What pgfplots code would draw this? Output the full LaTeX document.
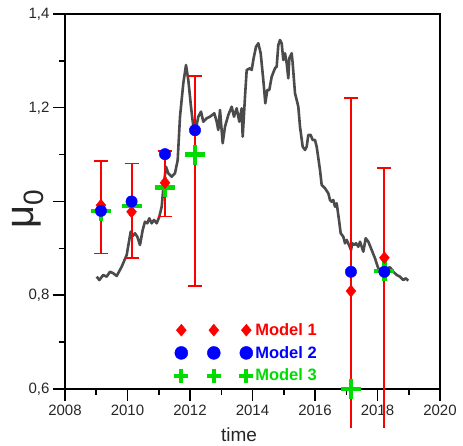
\documentclass[border=0pt]{standalone}
\usepackage{fontspec}
\setmainfont{Liberation Sans}
\usepackage{pgfplots}
\pgfplotsset{compat=1.18}
\definecolor{mred}{RGB}{255,0,0}
\definecolor{mblue}{RGB}{0,0,255}
\definecolor{mgreen}{RGB}{0,220,0}
\definecolor{lgray}{RGB}{75,75,75}
\pgfplotstableread{
x y
2009.014 0.8396
2009.098 0.8325
2009.226 0.8432
2009.334 0.8396
2009.440 0.8502
2009.546 0.8468
2009.654 0.8411
2009.814 0.8609
2009.974 0.8859
2010.102 0.9356
2010.166 0.9264
2010.240 0.9322
2010.314 0.9249
2010.400 0.9072
2010.486 0.9392
2010.560 0.9569
2010.634 0.9535
2010.698 0.9642
2010.774 0.9535
2010.848 0.9605
2010.934 0.9535
2011.018 0.9676
2011.094 0.9889
2011.146 1.0282
2011.232 1.0742
2011.306 1.0602
2011.414 1.0529
2011.520 1.0602
2011.606 1.0885
2011.680 1.1809
2011.786 1.2522
2011.872 1.2912
2011.946 1.2592
2012.032 1.2022
2012.106 1.1596
2012.182 1.1525
2012.266 1.1809
2012.352 1.1916
2012.426 1.1702
2012.534 1.1775
2012.640 1.1809
2012.778 1.1882
2012.854 1.1702
2012.906 1.1525
2012.960 1.1952
2013.046 1.1242
2013.120 1.1596
2013.226 1.1845
2013.334 1.2022
2013.408 1.1809
2013.494 1.1988
2013.578 1.1702
2013.654 1.1988
2013.686 1.1382
2013.760 1.2236
2013.814 1.2805
2013.920 1.2842
2013.974 1.2805
2014.026 1.3019
2014.112 1.3302
2014.186 1.3375
2014.262 1.3162
2014.346 1.2592
2014.410 1.2095
2014.474 1.2379
2014.538 1.2379
2014.614 1.2662
2014.720 1.2842
2014.774 1.2876
2014.826 1.3339
2014.880 1.3445
2014.934 1.3375
2014.986 1.3019
2015.040 1.3162
2015.094 1.2948
2015.146 1.2628
2015.178 1.3055
2015.254 1.3162
2015.286 1.2948
2015.360 1.2308
2015.414 1.2165
2015.466 1.2022
2015.520 1.1596
2015.606 1.1169
2015.680 1.1099
2015.734 1.1169
2015.786 1.1419
2015.862 1.1419
2015.926 1.1312
2016.000 1.1312
2016.054 1.1169
2016.160 1.0672
2016.214 1.0352
2016.320 1.0282
2016.426 1.0175
2016.480 1.0032
2016.534 0.9996
2016.586 1.0032
2016.640 0.9889
2016.694 0.9962
2016.768 0.9605
2016.822 0.9322
2016.906 0.9249
2016.960 0.9108
2017.014 0.9179
2017.088 0.9072
2017.152 0.8965
2017.194 0.9108
2017.258 0.9072
2017.312 0.9108
2017.386 0.9036
2017.440 0.9142
2017.494 0.9036
2017.546 0.8929
2017.622 0.9215
2017.706 0.9142
2017.814 0.8965
2017.920 0.8788
2018.006 0.8609
2018.080 0.8502
2018.154 0.8575
2018.294 0.8575
2018.400 0.8596
2018.506 0.8502
2018.614 0.8432
2018.720 0.8396
2018.826 0.8325
2018.902 0.8362
2018.986 0.8311
}\seriesline
\begin{document}
\begin{tikzpicture}
\useasboundingbox (-65pt,-57pt) rectangle (398pt,389pt);
\begin{axis}[
  at={(0pt,0pt)}, anchor=south west,
  width=375pt, height=375pt, scale only axis,
  xmin=2008, xmax=2020, ymin=0.6, ymax=1.4,
  clip=false,
  axis line style={line width=1.6pt, black},
  xtick={2008,2010,2012,2014,2016,2018,2020},
  xticklabels={2008,2010,2012,2014,2016,2018,2020},
  ytick={0.6,0.8,1.0,1.2,1.4},
  yticklabels={{0,6},{0,8},{},{1,2},{1,4}},
  minor x tick num=1, minor y tick num=1,
  tick pos=left, tick align=outside,
  major tick length=12pt, minor tick length=6pt,
  tick style={black, line width=1.5pt},
  tick label style={font=\fontsize{15}{18}\selectfont, text=black!85},
  xlabel={time},
  xlabel style={font=\fontsize{19}{22}\selectfont, text=black!85, at={(axis description cs:0.464,-0.1413)}, anchor=base},
  ylabel={μ\textsubscript{0}},
  ylabel style={font=\fontsize{40}{44}\selectfont, text=black!85, at={(axis description cs:-0.0853,0.481)}, anchor=base},
  legend image code/.code={\draw[#1] plot coordinates {(0pt,0pt) (32.5pt,0pt) (65pt,0pt)};},
  legend cell align=left,
  legend style={at={(axis description cs:0.291,0.178)}, anchor=north west, draw=none, fill=none, inner sep=0pt, row sep=7.3pt, column sep=1pt, font=\fontsize{16.5}{19}\selectfont\bfseries, nodes={inner sep=1pt}},
  errstyle/.style={only marks, mark=*, mark size=0.01pt, mred, forget plot,
    error bars/error bar style={draw=mred, line width=1.9pt},
    error bars/error mark options={draw=mred, rotate=90, mark size=7pt, line width=1.9pt}},
]
\addplot[lgray, line width=2.6pt, line join=round, forget plot] table[x=x, y=y] {\seriesline};
% Model 3
\addplot[only marks, mark=+, mark size=10pt, mark options={draw=mgreen, line width=4.5pt}, forget plot] coordinates {
(2009.15,0.980) (2010.13,0.990) (2011.20,1.030) (2012.16,1.100) (2017.15,0.600) (2018.22,0.852)};
% Model 1
\addplot[only marks, mark=diamond*, mark size=6pt, mark options={draw=mred, fill=mred, xscale=1.1, line width=0.4pt}, forget plot] coordinates {
(2009.15,0.992) (2010.13,0.978) (2011.20,1.040) (2012.16,1.152) (2017.15,0.809) (2018.22,0.880)};
% Model 2
\addplot[only marks, mark=*, mark size=5.7pt, mark options={draw=mblue, fill=mblue, line width=0.4pt}, forget plot] coordinates {
(2009.15,0.980) (2010.13,1.000) (2011.20,1.101) (2012.16,1.152) (2017.15,0.850) (2018.22,0.850)};
% error bars (Model 1), upper
\addplot[errstyle, error bars/.cd, y dir=plus, y explicit] coordinates {
(2009.15,0.992) +- (0,0.094)
(2010.13,0.978) +- (0,0.103)
(2011.20,1.040) +- (0,0.068)
(2012.16,1.152) +- (0,0.116)
(2017.15,0.809) +- (0,0.412)
(2018.22,0.880) +- (0,0.191)};
% lower with caps
\addplot[errstyle, error bars/.cd, y dir=minus, y explicit] coordinates {
(2009.15,0.992) +- (0,0.103)
(2010.13,0.978) +- (0,0.098)
(2011.20,1.040) +- (0,0.072)
(2012.16,1.152) +- (0,0.332)};
% lower without caps (cut off)
\addplot[errstyle, error bars/.cd, y dir=minus, y explicit, error mark=none] coordinates {
(2017.15,0.809) +- (0,0.292)
(2018.22,0.880) +- (0,0.363)};
\addlegendimage{only marks, mark=diamond*, mark size=6pt, mark options={draw=mred, fill=mred, xscale=1.1}}
\addlegendentry{\textcolor{mred}{Model 1}}
\addlegendimage{only marks, mark=*, mark size=6.5pt, mark options={draw=mblue, fill=mblue}}
\addlegendentry{\textcolor{mblue}{Model 2}}
\addlegendimage{only marks, mark=+, mark size=7pt, mark options={draw=mgreen, line width=4pt}}
\addlegendentry{\textcolor{mgreen}{Model 3}}
\end{axis}
\end{tikzpicture}
\end{document}
